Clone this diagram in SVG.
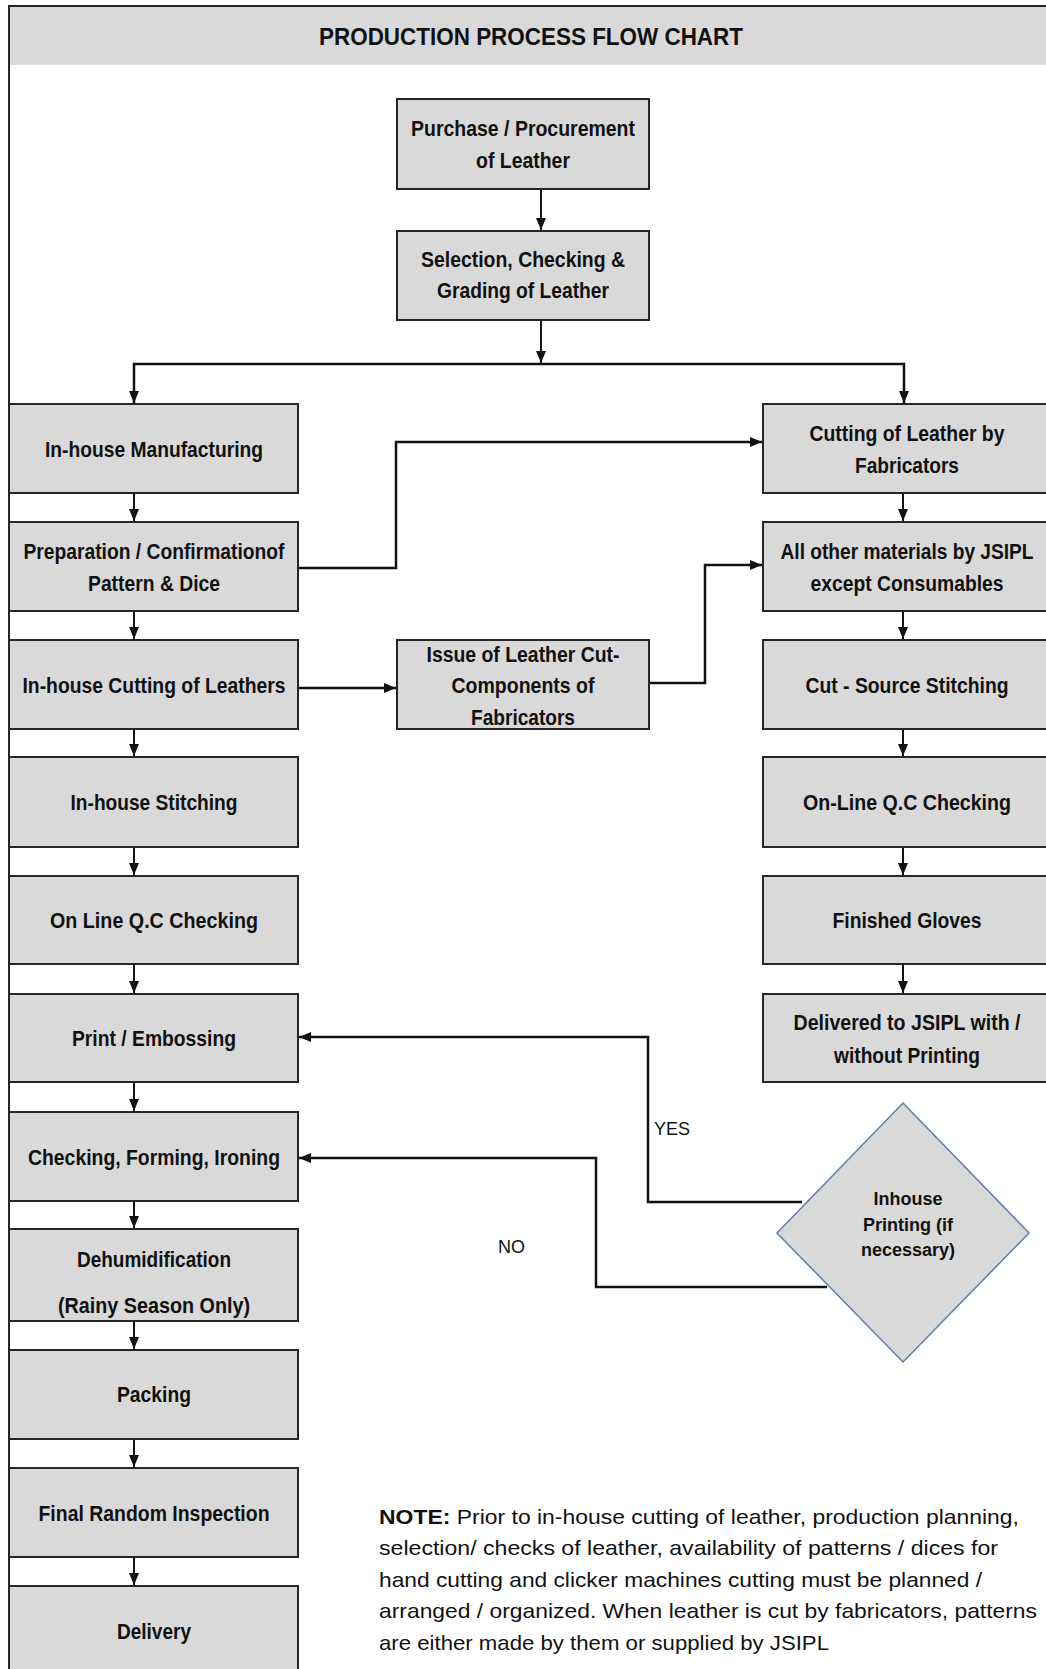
<svg xmlns="http://www.w3.org/2000/svg" width="1046" height="1669" viewBox="0 0 1046 1669">
<style>
.box{fill:#d9d9d9;stroke:#262626;stroke-width:2}
.t{font-family:"Liberation Sans Narrow","Liberation Sans",Arial,sans-serif;font-weight:bold;font-size:22px;fill:#111;text-anchor:middle}
.d{font-family:"Liberation Sans",Arial,sans-serif;font-weight:bold;font-size:18px;fill:#111;text-anchor:middle}
.c{fill:none;stroke:#111;stroke-width:2}
.c2{fill:none;stroke:#111;stroke-width:2.5}
.lbl{font-family:"Liberation Sans",Arial,sans-serif;font-size:18px;fill:#111}
.note{font-family:"Liberation Sans",Arial,sans-serif;font-size:21px;fill:#111}
</style>
<defs>
<marker id="ah" markerUnits="userSpaceOnUse" markerWidth="12" markerHeight="10" refX="12" refY="5" orient="auto">
<path d="M0,0 L12,5 L0,10 z" fill="#111"/>
</marker>
</defs>
<rect x="0" y="0" width="1046" height="1669" fill="#fff"/>
<g id="frame">
<rect x="9" y="6" width="1040" height="59" fill="#d9d9d9"/>
<path d="M9,1669 V6 H1046" fill="none" stroke="#262626" stroke-width="2"/>
<text x="531" y="45" font-family="Liberation Sans,Arial,sans-serif" font-weight="bold" font-size="24" text-anchor="middle" textLength="424" lengthAdjust="spacingAndGlyphs" fill="#111">PRODUCTION PROCESS FLOW CHART</text>
</g>
<g id="connectors">
<path class="c" d="M541,189 V230" marker-end="url(#ah)"/>
<path class="c" d="M541,320 V363" marker-end="url(#ah)"/>
<path class="c2" d="M134,403 V364 H904 V403" fill="none"/>
<path class="c" d="M134,390 V403" marker-end="url(#ah)"/>
<path class="c" d="M904,390 V403" marker-end="url(#ah)"/>
<path class="c" d="M134,493 V521" marker-end="url(#ah)"/>
<path class="c" d="M134,611 V639" marker-end="url(#ah)"/>
<path class="c" d="M134,729 V756" marker-end="url(#ah)"/>
<path class="c" d="M134,847 V875" marker-end="url(#ah)"/>
<path class="c" d="M134,964 V993" marker-end="url(#ah)"/>
<path class="c" d="M134,1082 V1111" marker-end="url(#ah)"/>
<path class="c" d="M134,1201 V1228" marker-end="url(#ah)"/>
<path class="c" d="M134,1321 V1349" marker-end="url(#ah)"/>
<path class="c" d="M134,1439 V1467" marker-end="url(#ah)"/>
<path class="c" d="M134,1557 V1585" marker-end="url(#ah)"/>
<path class="c" d="M903,493 V521" marker-end="url(#ah)"/>
<path class="c" d="M903,611 V639" marker-end="url(#ah)"/>
<path class="c" d="M903,729 V756" marker-end="url(#ah)"/>
<path class="c" d="M903,847 V875" marker-end="url(#ah)"/>
<path class="c" d="M903,964 V993" marker-end="url(#ah)"/>
<path class="c2" d="M298,568 H396 V442 H762" marker-end="url(#ah)"/>
<path class="c2" d="M298,688 H396" marker-end="url(#ah)"/>
<path class="c2" d="M649,683 H705 V565 H762" marker-end="url(#ah)"/>
<path class="c2" d="M802,1202 H648 V1037 H299" marker-end="url(#ah)"/>
<path class="c2" d="M827,1287 H596 V1158 H299" marker-end="url(#ah)"/>
<text class="lbl" x="654" y="1135">YES</text>
<text class="lbl" x="498" y="1253">NO</text>
</g>
<g id="n-purchase"><rect class="box" x="397" y="99" width="252" height="90"/>
<text class="t" x="523" y="136" textLength="224" lengthAdjust="spacingAndGlyphs">Purchase / Procurement</text>
<text class="t" x="523" y="168" textLength="94" lengthAdjust="spacingAndGlyphs">of Leather</text></g>
<g id="n-selection"><rect class="box" x="397" y="231" width="252" height="89"/>
<text class="t" x="523" y="267" textLength="204" lengthAdjust="spacingAndGlyphs">Selection, Checking &amp;</text>
<text class="t" x="523" y="298" textLength="172" lengthAdjust="spacingAndGlyphs">Grading of Leather</text></g>
<g id="n-inhouse-mfg"><rect class="box" x="9" y="404" width="289" height="89"/>
<text class="t" x="154" y="457" textLength="218" lengthAdjust="spacingAndGlyphs">In-house Manufacturing</text></g>
<g id="n-prep"><rect class="box" x="9" y="522" width="289" height="89"/>
<text class="t" x="154" y="559" textLength="261" lengthAdjust="spacingAndGlyphs">Preparation / Confirmationof</text>
<text class="t" x="154" y="591" textLength="132" lengthAdjust="spacingAndGlyphs">Pattern &amp; Dice</text></g>
<g id="n-inhouse-cut"><rect class="box" x="9" y="640" width="289" height="89"/>
<text class="t" x="154" y="693" textLength="263" lengthAdjust="spacingAndGlyphs">In-house Cutting of Leathers</text></g>
<g id="n-stitch"><rect class="box" x="9" y="757" width="289" height="90"/>
<text class="t" x="154" y="810" textLength="167" lengthAdjust="spacingAndGlyphs">In-house Stitching</text></g>
<g id="n-qc"><rect class="box" x="9" y="876" width="289" height="88"/>
<text class="t" x="154" y="928" textLength="208" lengthAdjust="spacingAndGlyphs">On Line Q.C Checking</text></g>
<g id="n-print"><rect class="box" x="9" y="994" width="289" height="88"/>
<text class="t" x="154" y="1046" textLength="164" lengthAdjust="spacingAndGlyphs">Print / Embossing</text></g>
<g id="n-checking"><rect class="box" x="9" y="1112" width="289" height="89"/>
<text class="t" x="154" y="1165" textLength="252" lengthAdjust="spacingAndGlyphs">Checking, Forming, Ironing</text></g>
<g id="n-dehum"><rect class="box" x="9" y="1229" width="289" height="92"/>
<text class="t" x="154" y="1267" textLength="154" lengthAdjust="spacingAndGlyphs">Dehumidification</text>
<text class="t" x="154" y="1313" textLength="192" lengthAdjust="spacingAndGlyphs">(Rainy Season Only)</text></g>
<g id="n-packing"><rect class="box" x="9" y="1350" width="289" height="89"/>
<text class="t" x="154" y="1402" textLength="74" lengthAdjust="spacingAndGlyphs">Packing</text></g>
<g id="n-final"><rect class="box" x="9" y="1468" width="289" height="89"/>
<text class="t" x="154" y="1521" textLength="231" lengthAdjust="spacingAndGlyphs">Final Random Inspection</text></g>
<g id="n-delivery"><rect class="box" x="9" y="1586" width="289" height="100"/>
<text class="t" x="154" y="1639" textLength="74" lengthAdjust="spacingAndGlyphs">Delivery</text></g>
<g id="n-issue"><rect class="box" x="397" y="640" width="252" height="89"/>
<text class="t" x="523" y="662" textLength="193" lengthAdjust="spacingAndGlyphs">Issue of Leather Cut-</text>
<text class="t" x="523" y="693" textLength="143" lengthAdjust="spacingAndGlyphs">Components of</text>
<text class="t" x="523" y="725" textLength="104" lengthAdjust="spacingAndGlyphs">Fabricators</text></g>
<g id="n-cut-fab"><rect class="box" x="763" y="404" width="290" height="89"/>
<text class="t" x="907" y="441" textLength="195" lengthAdjust="spacingAndGlyphs">Cutting of Leather by</text>
<text class="t" x="907" y="473" textLength="104" lengthAdjust="spacingAndGlyphs">Fabricators</text></g>
<g id="n-materials"><rect class="box" x="763" y="522" width="290" height="89"/>
<text class="t" x="907" y="559" textLength="253" lengthAdjust="spacingAndGlyphs">All other materials by JSIPL</text>
<text class="t" x="907" y="591" textLength="193" lengthAdjust="spacingAndGlyphs">except Consumables</text></g>
<g id="n-cut-source"><rect class="box" x="763" y="640" width="290" height="89"/>
<text class="t" x="907" y="693" textLength="203" lengthAdjust="spacingAndGlyphs">Cut - Source Stitching</text></g>
<g id="n-online-qc"><rect class="box" x="763" y="757" width="290" height="90"/>
<text class="t" x="907" y="810" textLength="208" lengthAdjust="spacingAndGlyphs">On-Line Q.C Checking</text></g>
<g id="n-finished"><rect class="box" x="763" y="876" width="290" height="88"/>
<text class="t" x="907" y="928" textLength="149" lengthAdjust="spacingAndGlyphs">Finished Gloves</text></g>
<g id="n-delivered"><rect class="box" x="763" y="994" width="290" height="88"/>
<text class="t" x="907" y="1030" textLength="227" lengthAdjust="spacingAndGlyphs">Delivered to JSIPL with /</text>
<text class="t" x="907" y="1063" textLength="146" lengthAdjust="spacingAndGlyphs">without Printing</text></g>
<g id="n-decision"><polygon points="903,1103 1029,1233 903,1362 777,1233" fill="#d9d9d9" stroke="#5b7fa6" stroke-width="1.5"/>
<text class="d" x="908" y="1205">Inhouse</text>
<text class="d" x="908" y="1231">Printing (if</text>
<text class="d" x="908" y="1256">necessary)</text></g>
<g id="note">
<text class="note" x="379" y="1524" textLength="640" lengthAdjust="spacingAndGlyphs"><tspan font-weight="bold">NOTE:</tspan> Prior to in-house cutting of leather, production planning,</text>
<text class="note" x="379" y="1555" textLength="619" lengthAdjust="spacingAndGlyphs">selection/ checks of leather, availability of patterns / dices for</text>
<text class="note" x="379" y="1587" textLength="603" lengthAdjust="spacingAndGlyphs">hand cutting and clicker machines cutting must be planned /</text>
<text class="note" x="379" y="1618" textLength="658" lengthAdjust="spacingAndGlyphs">arranged / organized. When leather is cut by fabricators, patterns</text>
<text class="note" x="379" y="1650" textLength="450" lengthAdjust="spacingAndGlyphs">are either made by them or supplied by JSIPL</text>
</g>
</svg>
